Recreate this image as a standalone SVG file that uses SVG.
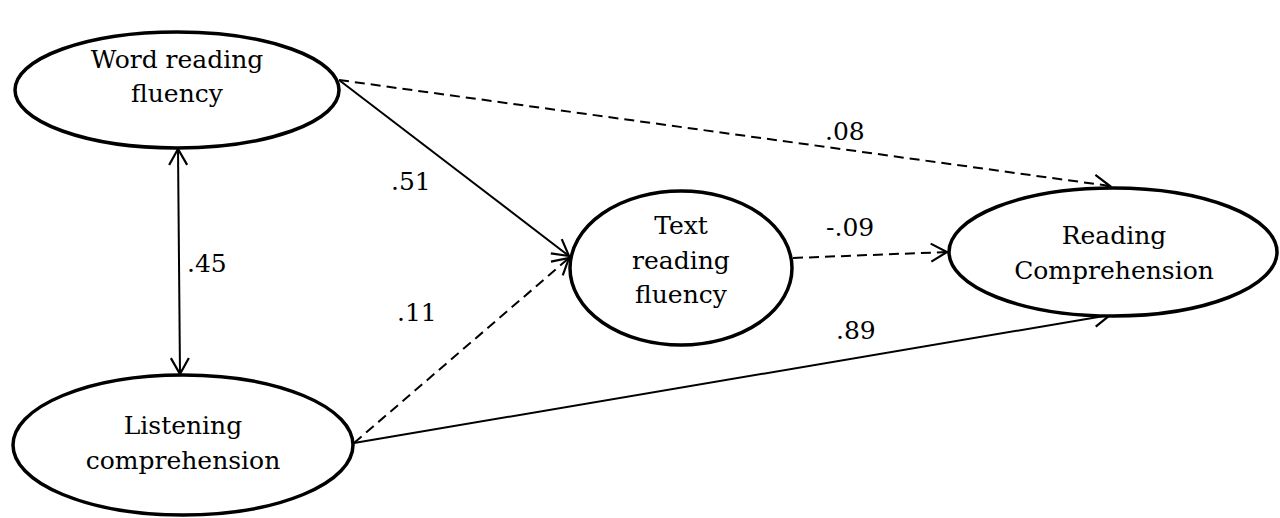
<svg xmlns="http://www.w3.org/2000/svg" width="1280" height="518" viewBox="0 0 1280 518">
<style>
.node{fill:#fff;stroke:#000;stroke-width:3.5}
.t{font-family:"DejaVu Serif","Liberation Serif",serif;font-size:25px;fill:#000;text-anchor:middle}
.lbl{font-family:"DejaVu Serif","Liberation Serif",serif;font-size:25px;fill:#000}
.c{fill:none;stroke:#000;stroke-width:2}
.d{stroke-dasharray:10,6}
</style>
<defs>
<marker id="ah" markerUnits="userSpaceOnUse" markerWidth="22" markerHeight="22" refX="17" refY="10" orient="auto-start-reverse" viewBox="0 0 22 20">
<path d="M1,1 L17,10 L1,19" fill="none" stroke="#000" stroke-width="2.2"/>
</marker>
</defs>
<rect width="1280" height="518" fill="#fff"/>
<g id="connectors">
<line class="c" x1="178" y1="149" x2="180" y2="374" marker-start="url(#ah)" marker-end="url(#ah)"/>
<line class="c" x1="339" y1="80" x2="569" y2="256" marker-end="url(#ah)"/>
<line class="c d" x1="339" y1="80" x2="1110" y2="186" marker-end="url(#ah)"/>
<line class="c d" x1="354" y1="443" x2="569" y2="258" marker-end="url(#ah)"/>
<line class="c" x1="354" y1="443" x2="1110" y2="315" marker-end="url(#ah)"/>
<line class="c d" x1="793" y1="258" x2="947" y2="252" marker-end="url(#ah)"/>
<text class="lbl" x="187" y="272">.45</text>
<text class="lbl" x="391" y="190">.51</text>
<text class="lbl" x="397" y="321">.11</text>
<text class="lbl" x="825" y="140">.08</text>
<text class="lbl" x="826" y="236">-.09</text>
<text class="lbl" x="836" y="339">.89</text>
</g>
<g id="word-reading-fluency">
<ellipse class="node" cx="177" cy="90" rx="162" ry="58"/>
<text class="t" x="177" y="68">Word reading</text>
<text class="t" x="177" y="102">fluency</text>
</g>
<g id="listening-comprehension">
<ellipse class="node" cx="183" cy="445" rx="170" ry="70"/>
<text class="t" x="183" y="434">Listening</text>
<text class="t" x="183" y="469">comprehension</text>
</g>
<g id="text-reading-fluency">
<ellipse class="node" cx="681" cy="268" rx="111" ry="77"/>
<text class="t" x="681" y="234">Text</text>
<text class="t" x="681" y="269">reading</text>
<text class="t" x="681" y="303">fluency</text>
</g>
<g id="reading-comprehension">
<ellipse class="node" cx="1113" cy="252" rx="164" ry="64"/>
<text class="t" x="1114" y="244">Reading</text>
<text class="t" x="1114" y="279">Comprehension</text>
</g>
</svg>
